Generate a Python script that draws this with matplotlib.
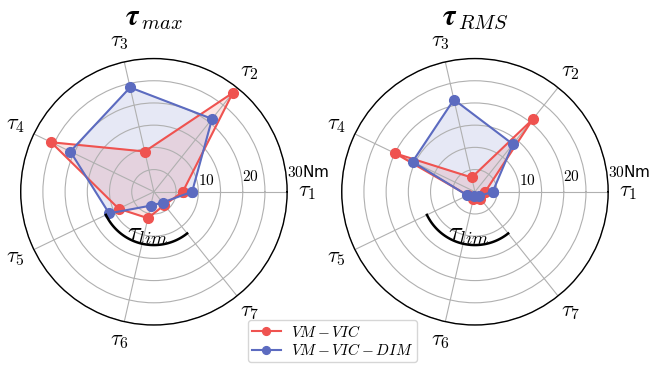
import numpy as np
import matplotlib
matplotlib.use("Agg")
import matplotlib.pyplot as plt

plt.rcParams['mathtext.fontset'] = 'cm'

joints = [r'$\tau_1$', r'$\tau_2$', r'$\tau_3$', r'$\tau_4$', r'$\tau_5$', r'$\tau_6$', r'$\tau_7$']
series_names = [r'$VM-VIC$', r'$VM-VIC-DIM$']

max_vm_vic = [6.5, 28.5, 9.3, 25.7, 8.8, 6.1, 3.8]
max_vm_vic_dim = [8.6, 21.0, 24.1, 20.9, 11.2, 3.2, 3.1]
rms_vm_vic = [2.3, 20.9, 3.3, 19.9, 1.8, 1.6, 2.0]
rms_vm_vic_dim = [4.0, 13.7, 21.3, 15.6, 1.9, 1.0, 1.3]

titles = [r'$\boldsymbol{\tau}_{\,max}$', r'$\boldsymbol{\tau}_{\,RMS}$']
r_ticks = [5, 10, 15, 20, 25, 30]
r_ticklabels = ['', r'$10$', '', r'$20$', '', r'$30$Nm']
tau_lim = 12

colors = ['#EF5350', '#5C6BC0']

fig = plt.figure(figsize=(6.5, 3.65), dpi=100)
axes = [fig.add_axes([0.0318, 0.1096, 0.410, 0.730], projection='polar'),
        fig.add_axes([0.5257, 0.1096, 0.410, 0.730], projection='polar')]

n = len(joints)
theta = np.arange(n) * 2 * np.pi / n
theta_c = np.append(theta, theta[0])

data = [(max_vm_vic, max_vm_vic_dim), (rms_vm_vic, rms_vm_vic_dim)]
handles = []
for ax, title, (a, b) in zip(axes, titles, data):
    for vals, col, name in zip((a, b), colors, series_names):
        v = np.append(vals, vals[0])
        h, = ax.plot(theta_c, v, color=col, lw=1.5, marker='o', ms=7, label=name)
        ax.fill(theta_c, v, color=col, alpha=0.15)
        if len(handles) < 2:
            handles.append(h)
    arc = np.linspace(theta[4], theta[6], 100)
    ax.plot(arc, np.full_like(arc, tau_lim), color='black', lw=1.8)
    ax.text(theta[5] + 0.08, 9.6, r'$\tau_{lim}$', ha='center', va='center', fontsize=19)
    ax.set_ylim(0, 30)
    ax.set_yticks(r_ticks)
    ax.set_yticklabels(r_ticklabels, fontsize=11)
    ax.set_rlabel_position(5)
    ax.set_xticks(theta)
    ax.set_xticklabels(joints, fontsize=16)
    ax.tick_params(axis='x', pad=4)
    ax.grid(True, color='#b0b0b0', lw=0.8)
    ax.spines['polar'].set_color('black')
    ax.spines['polar'].set_linewidth(1.0)
    ax.set_title(title, fontsize=21, pad=0)

fig.legend(handles, series_names, loc='lower center', bbox_to_anchor=(0.5115, 0.0),
           fontsize=11, labelspacing=0.15, handlelength=1.9, handletextpad=0.7,
           markerscale=0.8, borderpad=0.25, borderaxespad=0.2)
fig.savefig('out.png', dpi=100)
